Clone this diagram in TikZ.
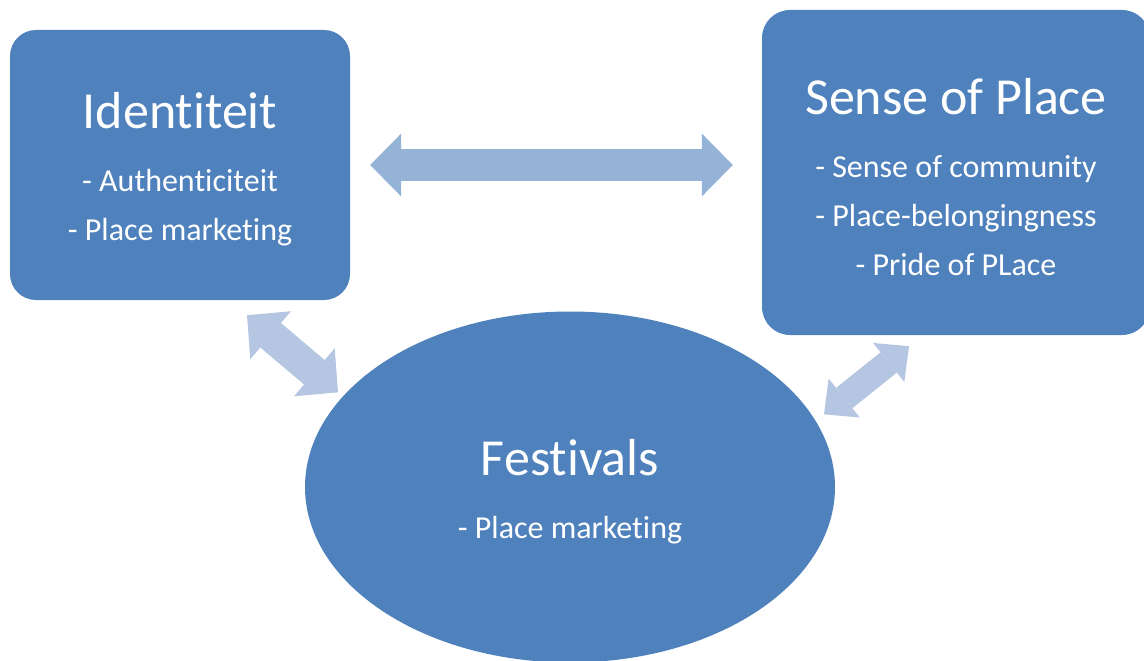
\documentclass[tikz,border=0pt]{standalone}
\usepackage{fontspec}
\setmainfont{Carlito}[Ligatures={NoCommon}]
\usepackage{tikz}
\usetikzlibrary{
  arrows.meta,
  shapes.geometric,
  calc
}
\definecolor{fbBox}{HTML}{4F81BD}
\definecolor{fbArrow}{HTML}{95B3D7}
\definecolor{fbLight}{HTML}{B4C6E1}
\tikzset{
  theme/.style={
    fill=fbBox, draw=none, text=white, align=center, inner sep=0pt,
    font=\fontsize{32}{49}\selectfont
  },
  themebox/.style={theme, rectangle, rounded corners=26pt},
  themeoval/.style={theme, ellipse},
  bigarrow/.style={
    draw=fbArrow, line width=32pt,
    {Triangle[length=31pt, width=63pt, line width=0pt]}-{Triangle[length=31pt, width=63pt, line width=0pt]}
  },
  smallarrow/.style={bigarrow, draw=fbLight}
}
\newcommand{\headline}[1]{{\fontsize{52}{62}\selectfont\rule{0pt}{45pt}#1}\\[14pt]}

\begin{document}
\begin{tikzpicture}[x=1pt, y=-1pt]
  \useasboundingbox (0,0) rectangle (1144,661);

  % the three themes
  \node[themebox, minimum width=340pt, minimum height=270pt] (ident) at (180,165)
    {\headline{Identiteit}- Authenticiteit\\- Place marketing};
  \node[themebox, minimum width=388pt, minimum height=325pt, rounded corners=28pt] (sense) at (956,172.5)
    {\headline{Sense of Place}- Sense of community\\- Place-belongingness\\- Pride of PLace};
  \node[themeoval, minimum width=530pt, minimum height=351pt] (fest) at (570,487)
    {\headline{Festivals}- Place marketing};

  % links between them
  \coordinate (ia) at ($(ident.south)+(67,15)$);
  \coordinate (fa) at ($(fest.north)+(-232,81)$);
  \coordinate (fb) at ($(fest.north)+(254,103)$);
  \coordinate (sb) at ($(sense.south)+(-47,11)$);

  \draw[bigarrow] ($(ident.east)+(20,0)$) -- ($(sense.west |- ident.east)+(-29,0)$);
  \draw[smallarrow] (ia) -- (fa);
  \draw[smallarrow, line width=26pt,
    {Triangle[length=26pt, width=50pt, line width=0pt]}-{Triangle[length=26pt, width=50pt, line width=0pt]}] (fb) -- (sb);
\end{tikzpicture}
\end{document}
